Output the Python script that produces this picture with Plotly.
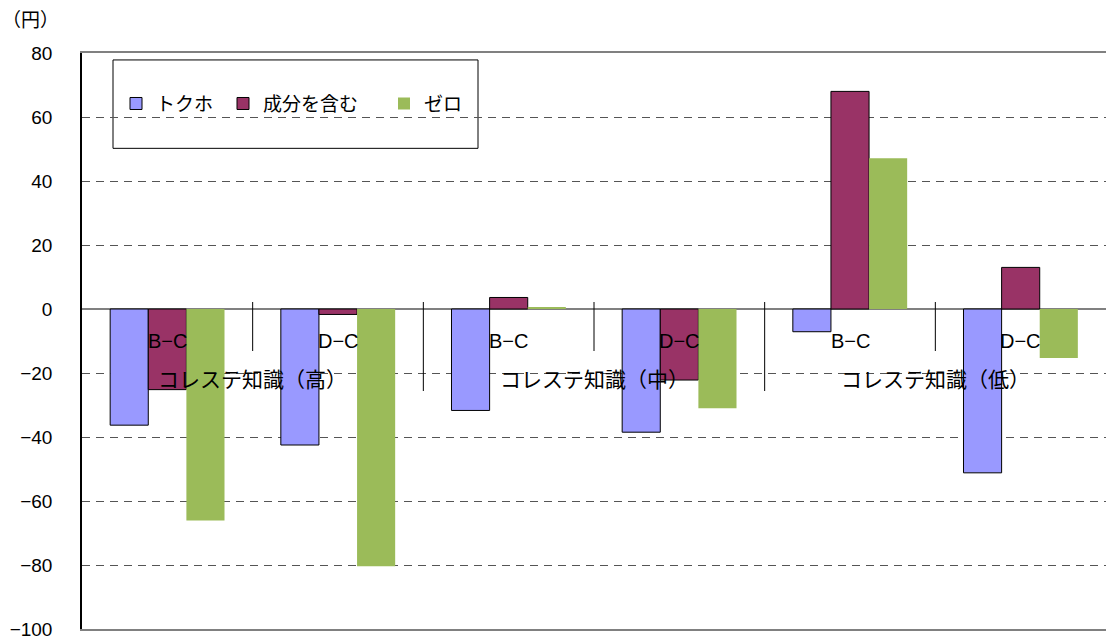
import plotly.graph_objects as go

groups = ["コレステ知識（高）", "コレステ知識（中）", "コレステ知識（低）"]
subs = ["B−C", "D−C"]
series_names = ["トクホ", "成分を含む", "ゼロ"]
tokuho = [-36.3, -42.5, -31.7, -38.5, -7.1, -51.2]
seibun = [-25.2, -1.7, 3.6, -22.2, 68.0, 13.0]
zero_vals = [-66.1, -80.4, 0.5, -31.0, 47.1, -15.3]
y_ticks = [-100, -80, -60, -40, -20, 0, 20, 40, 60, 80]

colors = ["#9999FF", "#993366", "#9BBB59"]
line_w = [1, 1, 0]

n = len(groups) * len(subs)
xs = list(range(n))

W, H = 1107, 641
ML, MR, MT, MB = 82, 1, 53, 8
PW = W - ML - MR
PH = H - MT - MB

def px(x):
    return (x - ML) / PW

def py(y):
    return (H - MB - y) / PH

JP = "Liberation Sans, Noto Sans CJK JP, sans-serif"

fig = go.Figure()
legends = ["legend", "legend2", "legend3"]
for name, vals, c, lw, lg in zip(series_names, [tokuho, seibun, zero_vals], colors, line_w, legends):
    fig.add_trace(go.Bar(
        x=xs, y=vals, name=name, legend=lg,
        marker=dict(color=c, line=dict(color="black", width=lw)),
    ))

# sub-category labels
for i in xs:
    fig.add_annotation(x=i, y=0, xref="x", yref="y", text=subs[i % len(subs)],
                       showarrow=False, yanchor="top", yshift=-19,
                       font=dict(family=JP, size=20, color="black"))
# group labels
for g, gname in enumerate(groups):
    cx = g * len(subs) + (len(subs) - 1) / 2
    fig.add_annotation(x=cx, y=0, xref="x", yref="y", text=gname,
                       showarrow=False, yanchor="top", yshift=-57,
                       font=dict(family=JP, size=21, color="black"))
# separators
for i in range(n - 1):
    xb = i + 0.5
    long_sep = (i + 1) % len(subs) == 0
    fig.add_shape(type="line", xref="x", yref="y", x0=xb, x1=xb,
                  ysizemode="pixel", yanchor=0, y0=7, y1=-82 if long_sep else -42,
                  line=dict(color="black", width=1))

# legend box
fig.add_shape(type="rect", xref="paper", yref="paper",
              x0=px(113), x1=px(478), y0=py(149), y1=py(60),
              line=dict(color="black", width=1), fillcolor="white", layer="below")

fig.add_annotation(x=px(0), y=py(20), xref="paper", yref="paper", text="（円）",
                   showarrow=False, xanchor="left", yanchor="middle",
                   font=dict(family=JP, size=19, color="black"))

leg_common = dict(orientation="h", yanchor="middle", xanchor="left",
                  bgcolor="rgba(0,0,0,0)", borderwidth=0,
                  font=dict(family=JP, size=19, color="black"), itemwidth=30)
lx = [116, 223, 384]
fig.update_layout(
    width=W, height=H,
    margin=dict(l=ML, r=MR, t=MT, b=MB, pad=0),
    paper_bgcolor="white", plot_bgcolor="white",
    barmode="group", bargap=0.33, bargroupgap=0,
    showlegend=True,
    legend=dict(x=px(lx[0]), y=py(104), **leg_common),
    legend2=dict(x=px(lx[1]), y=py(104), **leg_common),
    legend3=dict(x=px(lx[2]), y=py(104), **leg_common),
    xaxis=dict(range=[-0.5, n - 0.5], showticklabels=False, showgrid=False,
               zeroline=False, showline=True, linecolor="#808080", linewidth=2,
               mirror=True, ticks=""),
    yaxis=dict(range=[-100, 80], tickvals=y_ticks, showgrid=True,
               gridcolor="#555555", griddash="8px,6px", gridwidth=1,
               zeroline=True, zerolinecolor="#808080", zerolinewidth=2,
               showline=True, linecolor="black", linewidth=1.5,
               ticks="", ticklabelstandoff=24, ticklabeloverflow="allow",
               tickfont=dict(family="Liberation Sans, Arial, sans-serif", size=19, color="black")),
)

fig.write_html(
    "out.html", config={"displayModeBar": False},
    post_script=("document.documentElement.style.overflow='hidden';"
                 "document.body.style.overflow='hidden';"
                 "document.body.style.margin='0';document.body.style.padding='0';"
                 "window.scrollTo(0,0);"))
